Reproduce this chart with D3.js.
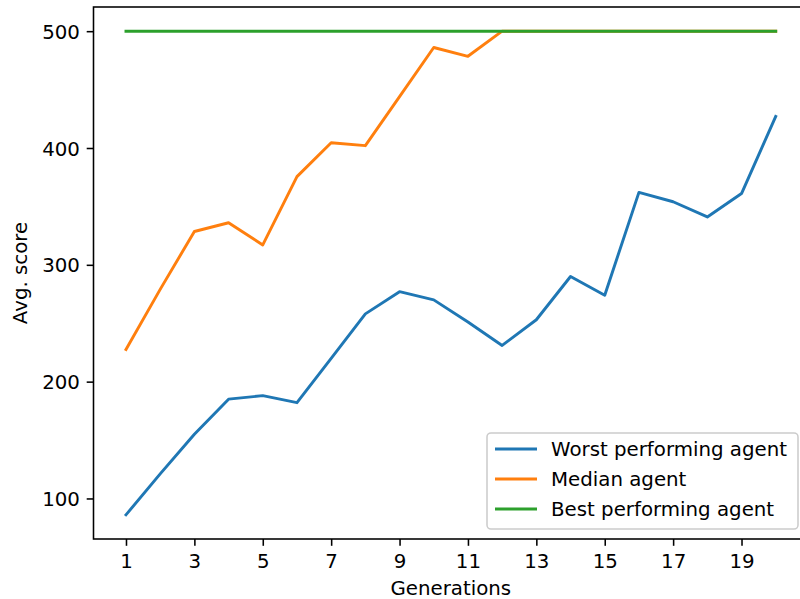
<!DOCTYPE html>
<html>
<head>
<meta charset="utf-8">
<script src="https://cdn.jsdelivr.net/npm/d3@7"></script>
<style>
  body { margin: 0; background: #fff; }
  svg { display: block; font-family: "DejaVu Sans", sans-serif; }
</style>
</head>
<body>
<svg id="chart" width="800" height="599"></svg>
<script>
// chart values
const generations = d3.range(1, 21);
const worstScores = [86, 121, 155, 185, 188, 182, 220, 258, 277, 270, 251, 231, 253, 290, 274, 362, 354, 341, 361, 427];
const medianScores = [227.5, 279, 328.5, 336, 317, 375.5, 404.5, 402, 444, 486, 478.5, 500, 500, 500, 500, 500, 500, 500, 500, 500];
const bestScores = [500, 500, 500, 500, 500, 500, 500, 500, 500, 500, 500, 500, 500, 500, 500, 500, 500, 500, 500, 500];
const seriesNames = ["Worst performing agent", "Median agent", "Best performing agent"];
const seriesColors = ["#1f77b4", "#ff7f0e", "#2ca02c"];
const xTicks = [1, 3, 5, 7, 9, 11, 13, 15, 17, 19];
const yTicks = [100, 200, 300, 400, 500];

const pt = 140 / 72; // matplotlib points -> px
const fontSize = 19.8;
const margin = {left: 93.5, top: 7, right: 808.2, bottom: 539};

const svg = d3.select("#chart");

const allSeries = [worstScores, medianScores, bestScores];
const yMin = d3.min(allSeries, s => d3.min(s));
const yMax = d3.max(allSeries, s => d3.max(s));
const yPad = (yMax - yMin) * 0.05;
const xPad = (d3.max(generations) - d3.min(generations)) * 0.05;

const xScale = d3.scaleLinear()
  .domain([d3.min(generations) - xPad, d3.max(generations) + xPad])
  .range([margin.left, margin.right]);
const yScale = d3.scaleLinear()
  .domain([yMin - yPad, yMax + yPad])
  .range([margin.bottom, margin.top]);

// lines
const line = d3.line()
  .x((d, i) => xScale(generations[i]))
  .y(d => yScale(d));

allSeries.forEach((s, i) => {
  svg.append("path")
    .datum(s)
    .attr("fill", "none")
    .attr("stroke", seriesColors[i])
    .attr("stroke-width", 1.5 * pt)
    .attr("stroke-linejoin", "round")
    .attr("stroke-linecap", "square")
    .attr("d", line);
});

// axes
const xAxis = d3.axisBottom(xScale)
  .tickValues(xTicks)
  .tickSize(3.5 * pt)
  .tickPadding(3.5 * pt)
  .tickSizeOuter(0);
const yAxis = d3.axisLeft(yScale)
  .tickValues(yTicks)
  .tickSize(3.5 * pt)
  .tickPadding(3.5 * pt)
  .tickSizeOuter(0);

const gx = svg.append("g")
  .attr("transform", "translate(0," + margin.bottom + ")")
  .call(xAxis);
const gy = svg.append("g")
  .attr("transform", "translate(" + margin.left + ",0)")
  .call(yAxis);

[gx, gy].forEach(g => {
  g.select(".domain").remove();
  g.selectAll(".tick line").attr("stroke", "#000").attr("stroke-width", 0.8 * pt);
  g.selectAll(".tick text")
    .attr("fill", "#000")
    .style("font-size", fontSize + "px")
    .style("font-family", "DejaVu Sans");
});
gy.selectAll(".tick text").attr("dy", "0.36em");
gx.selectAll(".tick text").attr("dy", "0.76em");

// spines
svg.append("rect")
  .attr("x", margin.left)
  .attr("y", margin.top)
  .attr("width", margin.right - margin.left)
  .attr("height", margin.bottom - margin.top)
  .attr("fill", "none")
  .attr("stroke", "#000")
  .attr("stroke-width", 0.8 * pt);

// axis labels
svg.append("text")
  .attr("x", (margin.left + margin.right) / 2)
  .attr("y", 595)
  .attr("text-anchor", "middle")
  .style("font-size", fontSize + "px")
  .text("Generations");

svg.append("text")
  .attr("transform", "translate(27," + ((margin.top + margin.bottom) / 2) + ") rotate(-90)")
  .attr("text-anchor", "middle")
  .style("font-size", fontSize + "px")
  .text("Avg. score");

// legend
const legend = svg.append("g");
legend.append("rect")
  .attr("x", 487)
  .attr("y", 433)
  .attr("width", 311)
  .attr("height", 96)
  .attr("rx", 4)
  .attr("fill", "#fff")
  .attr("fill-opacity", 0.8)
  .attr("stroke", "#cccccc")
  .attr("stroke-width", 0.8 * pt);

seriesNames.forEach((name, i) => {
  const cy = 449 + i * 30;
  legend.append("line")
    .attr("x1", 495).attr("x2", 537)
    .attr("y1", cy).attr("y2", cy)
    .attr("stroke", seriesColors[i])
    .attr("stroke-width", 1.5 * pt);
  legend.append("text")
    .attr("x", 551)
    .attr("y", cy)
    .attr("dy", "0.36em")
    .style("font-size", fontSize + "px")
    .text(name);
});
</script>
</body>
</html>
